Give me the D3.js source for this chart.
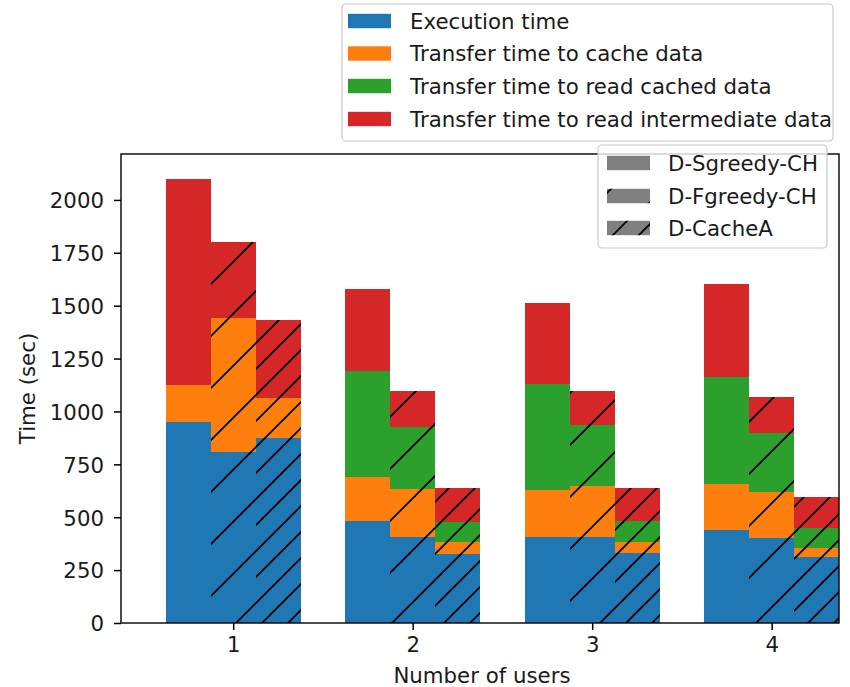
<!DOCTYPE html>
<html><head><meta charset="utf-8">
<script src="https://cdn.jsdelivr.net/npm/d3@7"></script>
<style>
body{margin:0;background:#fff}
svg{display:block}
text{font-family:"DejaVu Sans",sans-serif;fill:#1a1a1a}
</style>
</head><body>
<svg id="chart" width="850" height="687"></svg>
<script>
// ---------------- data ----------------
const users = [1, 2, 3, 4];
const methods = ["D-Sgreedy-CH", "D-Fgreedy-CH", "D-CacheA"];
const components = ["Execution time", "Transfer time to cache data",
  "Transfer time to read cached data", "Transfer time to read intermediate data"];
const yTicks = [0, 250, 500, 750, 1000, 1250, 1500, 1750, 2000];

// D-Sgreedy-CH
const sgreedyExec  = [950, 480, 405, 440];
const sgreedyCache = [175, 210, 224, 217];
const sgreedyRead  = [0, 500, 500, 508];
const sgreedyInter = [975, 390, 383, 438];
// D-Fgreedy-CH
const fgreedyExec  = [810, 408, 408, 400];
const fgreedyCache = [630, 224, 240, 221];
const fgreedyRead  = [0, 296, 288, 276];
const fgreedyInter = [360, 169, 161, 170];
// D-CacheA
const cacheaExec  = [875, 326, 330, 313];
const cacheaCache = [190, 58, 54, 40];
const cacheaRead  = [0, 95, 98, 95];
const cacheaInter = [365, 158, 155, 149];

const methodSeries = [
  [sgreedyExec, sgreedyCache, sgreedyRead, sgreedyInter],
  [fgreedyExec, fgreedyCache, fgreedyRead, fgreedyInter],
  [cacheaExec, cacheaCache, cacheaRead, cacheaInter]
];

// ---------------- style / layout ----------------
const colors = ["#1f77b4", "#ff7f0e", "#2ca02c", "#d62728"];
const FS = 21.3;
const plot = {left: 121, right: 839, top: 154, bottom: 623};
const barW = 0.25;
const offsets = [-0.25, 0, 0.25];

const svg = d3.select("#chart");
const defs = svg.append("defs");

function hatch(id, spacing, phase, width) {
  const p = defs.append("pattern").attr("id", id)
    .attr("patternUnits", "userSpaceOnUse")
    .attr("width", spacing).attr("height", spacing);
  for (let k = -1; k <= 2; k++) {
    const c = phase + k * spacing;
    p.append("line")
      .attr("x1", c + 12).attr("y1", -12)
      .attr("x2", -12).attr("y2", c + 12)
      .attr("stroke", "#000").attr("stroke-width", width);
  }
}
hatch("h-f", 52, 27, 1.8);
hatch("h-c", 26, 1, 1.8);
hatch("h-f-leg", 52, 20, 1.8);
hatch("h-c-leg", 26, 16, 1.8);
const hatchIds = [null, "h-f", "h-c"];
const hatchLegIds = [null, "h-f-leg", "h-c-leg"];

const x = d3.scaleLinear().domain([0.375, 4.375]).range([plot.left, plot.right]);
const y = d3.scaleLinear().domain([0, 2217]).range([plot.bottom, plot.top]);

// build segments
const segs = [];
methods.forEach((m, j) => {
  users.forEach((u, i) => {
    let base = 0;
    components.forEach((c, k) => {
      const v = methodSeries[j][k][i];
      segs.push({method: j, user: u, comp: k, y0: base, y1: base + v});
      base += v;
    });
  });
});
const bx0 = d => Math.round(x(d.user + offsets[d.method] - barW / 2));
const bx1 = d => Math.round(x(d.user + offsets[d.method] + barW / 2));

const gBars = svg.append("g").attr("shape-rendering", "crispEdges");
gBars.selectAll("rect.bar").data(segs.filter(d => d.y1 > d.y0)).join("rect")
  .attr("class", "bar")
  .attr("x", bx0)
  .attr("width", d => bx1(d) - bx0(d))
  .attr("y", d => Math.round(y(d.y1)))
  .attr("height", d => Math.round(y(d.y0)) - Math.round(y(d.y1)))
  .attr("fill", d => colors[d.comp]);

svg.append("g").selectAll("rect.hatch").data(segs.filter(d => d.y1 > d.y0 && hatchIds[d.method])).join("rect")
  .attr("class", "hatch")
  .attr("x", bx0)
  .attr("width", d => bx1(d) - bx0(d))
  .attr("y", d => Math.round(y(d.y1)))
  .attr("height", d => Math.round(y(d.y0)) - Math.round(y(d.y1)))
  .attr("fill", d => `url(#${hatchIds[d.method]})`);

// axes
const yAxis = d3.axisLeft(y).tickValues(yTicks).tickFormat(d3.format("d")).tickSize(7).tickPadding(10).tickSizeOuter(0);
const gy = svg.append("g").attr("transform", `translate(${plot.left},0)`).call(yAxis);
const xAxis = d3.axisBottom(x).tickValues(users).tickFormat(d3.format("d")).tickSize(7).tickPadding(7).tickSizeOuter(0);
const gx = svg.append("g").attr("transform", `translate(0,${plot.bottom})`).call(xAxis);
[gy, gx].forEach(g => {
  g.select(".domain").remove();
  g.selectAll(".tick line").attr("stroke", "#000").attr("stroke-width", 1.5);
  g.selectAll(".tick text").attr("font-size", FS).attr("font-family", "DejaVu Sans").attr("fill", "#1a1a1a");
});
gy.selectAll(".tick text").attr("dy", "0.365em");

// frame
svg.append("rect").attr("x", plot.left).attr("y", plot.top)
  .attr("width", plot.right - plot.left).attr("height", plot.bottom - plot.top)
  .attr("fill", "none").attr("stroke", "#000").attr("stroke-width", 1.4);

// axis labels
svg.append("text").attr("x", (plot.left + plot.right) / 2 + 2).attr("y", 683)
  .attr("text-anchor", "middle").attr("font-size", FS).text("Number of users");
svg.append("text").attr("transform", `translate(35,${(plot.top + plot.bottom) / 2}) rotate(-90)`)
  .attr("text-anchor", "middle").attr("font-size", FS).text("Time (sec)");

// legend 1: components
const L1 = {x: 342, y: 4, w: 491, h: 137, rows: [21, 53.5, 86, 119], px: 348, tx: 410};
const g1 = svg.append("g");
g1.append("rect").attr("x", L1.x).attr("y", L1.y).attr("width", L1.w).attr("height", L1.h)
  .attr("rx", 4).attr("fill", "#fff").attr("fill-opacity", 0.8).attr("stroke", "#c8c8c8").attr("stroke-width", 1.2);
components.forEach((c, k) => {
  g1.append("rect").attr("x", L1.px).attr("y", L1.rows[k] - 7.2).attr("width", 43).attr("height", 14.4).attr("fill", colors[k]);
  g1.append("text").attr("x", L1.tx).attr("y", L1.rows[k] + 7.5).attr("font-size", FS).text(c);
});

// legend 2: methods
const L2 = {x: 598, y: 145, w: 229, h: 103, rows: [163, 196, 228], px: 607, tx: 668};
const g2 = svg.append("g");
g2.append("rect").attr("x", L2.x).attr("y", L2.y).attr("width", L2.w).attr("height", L2.h)
  .attr("rx", 4).attr("fill", "#fff").attr("fill-opacity", 0.8).attr("stroke", "#c8c8c8").attr("stroke-width", 1.2);
methods.forEach((m, j) => {
  g2.append("rect").attr("x", L2.px).attr("y", L2.rows[j] - 7.2).attr("width", 43).attr("height", 14.4).attr("fill", "#808080");
  if (hatchLegIds[j]) {
    g2.append("rect").attr("x", L2.px).attr("y", L2.rows[j] - 7.2).attr("width", 43).attr("height", 14.4)
      .attr("fill", `url(#${hatchLegIds[j]})`);
  }
  g2.append("text").attr("x", L2.tx).attr("y", L2.rows[j] + 7.5).attr("font-size", FS).text(m);
});
</script>
</body></html>
